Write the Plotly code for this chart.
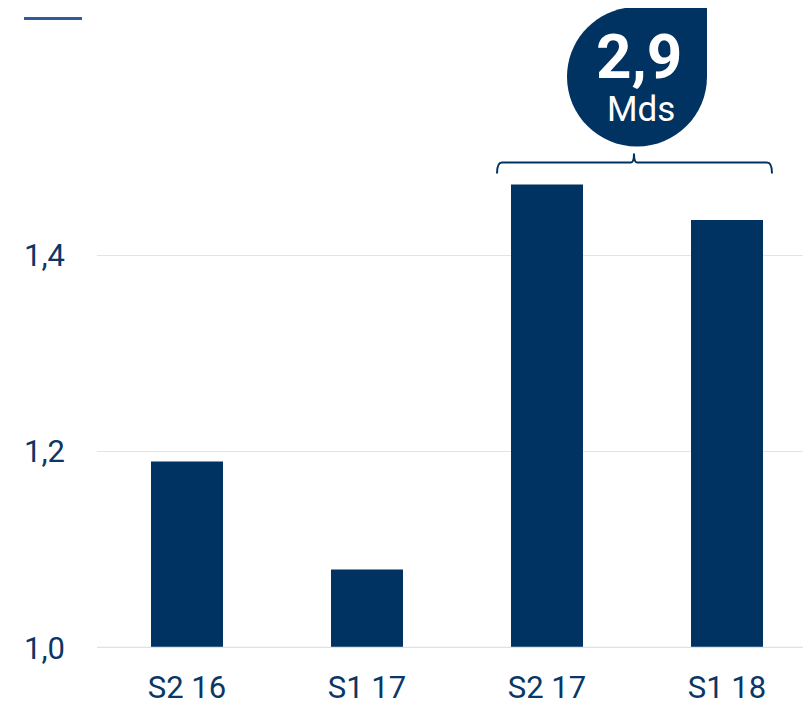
import plotly.graph_objects as go

categories = ["S2 16", "S1 17", "S2 17", "S1 18"]
values = [1.19, 1.08, 1.472, 1.436]
y_ticks = [1.0, 1.2, 1.4]
badge_value = "2,9"
badge_unit = "Mds"

NAVY = "#003262"
TEXT = "#0b3766"

OFF = 8  # page body margin
W, H = 811 - OFF, 706 - OFF
ML, MR, MT, MB = 97 - OFF, 0, 0, 56
PW, PH = W - ML - MR, H - MT - MB


def px(x):
    # x given in screen pixels
    return (x - OFF - ML) / PW


def py(y):
    return (H - MB - (y - OFF)) / PH


fig = go.Figure()
fig.add_trace(go.Bar(
    x=list(range(len(categories))), y=values,
    marker=dict(color=NAVY, line=dict(width=0)),
    width=0.4, hoverinfo="skip",
))

# Teardrop badge (pixel geometry converted to paper coords)
cx, cy, r = 637, 77, 70
k = 0.5523 * r
pts = [
    ("M", [(cx + r, cy - r)]),
    ("L", [(cx + r, cy)]),
    ("C", [(cx + r, cy + k), (cx + k, cy + r), (cx, cy + r)]),
    ("C", [(cx - k, cy + r), (cx - r, cy + k), (cx - r, cy)]),
    ("C", [(cx - r, cy - k), (cx - k, cy - r), (cx, cy - r)]),
    ("L", [(cx + r, cy - r)]),
]
path = ""
for cmd, ps in pts:
    path += cmd + " " + " ".join(f"{px(a):.5f},{py(b):.5f}" for a, b in ps) + " "
path += "Z"

shapes = [
    dict(type="path", xref="paper", yref="paper", path=path,
         fillcolor=NAVY, line=dict(width=0), layer="above"),
    # top-left accent line
    dict(type="line", xref="paper", yref="paper",
         x0=px(24), x1=px(82), y0=py(18.5), y1=py(18.5),
         line=dict(color="#2f5b9c", width=3)),
]

# bracket
bx0, bx1, by, bd = 497, 772, 163, 11
bpath = (f"M {px(bx0):.5f},{py(by+bd):.5f} "
         f"Q {px(bx0):.5f},{py(by):.5f} {px(bx0+5):.5f},{py(by):.5f} "
         f"L {px(631):.5f},{py(by):.5f} "
         f"Q {px(634):.5f},{py(by):.5f} {px(634):.5f},{py(by-9):.5f} "
         f"Q {px(634):.5f},{py(by):.5f} {px(637):.5f},{py(by):.5f} "
         f"L {px(bx1-5):.5f},{py(by):.5f} "
         f"Q {px(bx1):.5f},{py(by):.5f} {px(bx1):.5f},{py(by+bd):.5f}")
shapes.append(dict(type="path", xref="paper", yref="paper", path=bpath,
                   line=dict(color=NAVY, width=2)))

# baseline
shapes.append(dict(type="line", xref="paper", yref="y", x0=0, x1=1,
                   y0=y_ticks[0], y1=y_ticks[0],
                   line=dict(color="#d8e3f0", width=2.5)))

annotations = [
    dict(xref="paper", yref="paper", x=px(cx + 2), y=py(57), text=f"<b>{badge_value}</b>",
         showarrow=False, font=dict(family="Roboto", size=62, color="white"),
         xanchor="center", yanchor="middle"),
    dict(xref="paper", yref="paper", x=px(cx + 4), y=py(110), text=badge_unit,
         showarrow=False, font=dict(family="Roboto", size=35, color="white"),
         xanchor="center", yanchor="middle"),
]

fig.update_layout(
    width=W, height=H,
    margin=dict(l=ML, r=MR, t=MT, b=MB, pad=0),
    paper_bgcolor="white", plot_bgcolor="white",
    showlegend=False,
    separators=", ",
    shapes=shapes, annotations=annotations,
    font=dict(family="Roboto", color=TEXT),
    xaxis=dict(
        range=[-0.5, -0.5 + PW / 180], tickmode="array",
        tickvals=list(range(len(categories))), ticktext=categories,
        showgrid=False, zeroline=False, showline=False,
        tickfont=dict(size=31, color=TEXT), ticks="", ticklabelstandoff=18,
    ),
    yaxis=dict(
        range=[1.0, 1.0 + PH / 985], tickmode="array", tickvals=y_ticks,
        tickformat=".1f", showgrid=True, gridcolor="#e3e3e3", gridwidth=1,
        zeroline=False, showline=False, ticks="",
        tickfont=dict(size=31, color=TEXT), ticklabelstandoff=31,
    ),
)

fig.write_html("out.html")
